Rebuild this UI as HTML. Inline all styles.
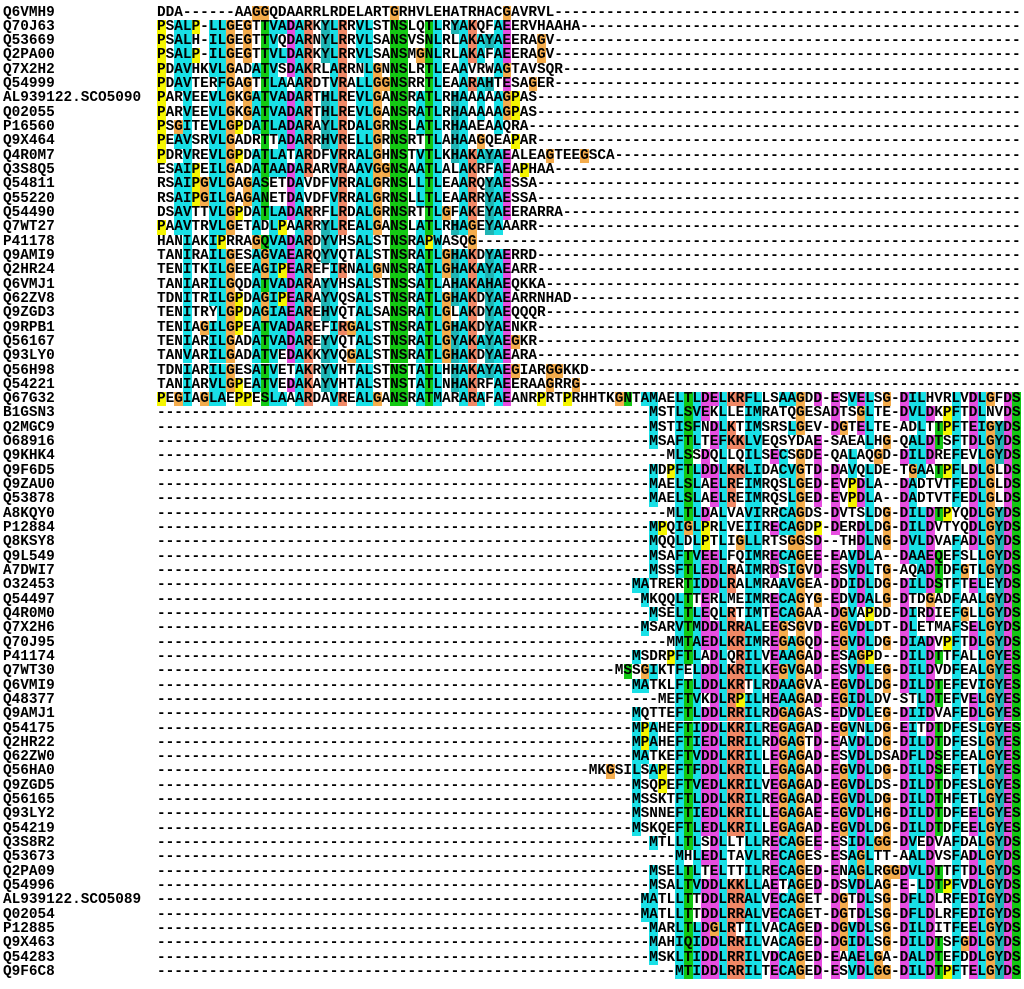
<!DOCTYPE html>
<html>
<head>
<meta charset="utf-8">
<style>
  html, body { margin:0; padding:0; background:#fff; }
  body { width:1024px; height:989px; position:relative; overflow:hidden; }
  #aln { position:absolute; left:0; top:5.5px; width:1024px; }
  .row { position:absolute; left:0; height:14.32px; width:1024px; }
  .nm, .sq { position:absolute; top:0; font-family:"Liberation Mono", monospace; font-weight:bold;
             font-size:14.4px; line-height:14.32px; white-space:pre; color:#000; }
  .nm { left:3px; }
  .sq { left:157px; }
  .cell { position:absolute; top:0; height:14.32px; width:8.64px; }
</style>
</head>
<body>
<div id="aln"></div>
<script>
const seqNames = ["Q6VMH9","Q70J63","Q53669","Q2PA00","Q7X2H2","Q54999","AL939122.SCO5090","Q02055","P16560","Q9X464","Q4R0M7","Q3S8Q5","Q54811","Q55220","Q54490","Q7WT27","P41178","Q9AMI9","Q2HR24","Q6VMJ1","Q62ZV8","Q9ZGD3","Q9RPB1","Q56167","Q93LY0","Q56H98","Q54221","Q67G32","B1GSN3","Q2MGC9","O68916","Q9KHK4","Q9F6D5","Q9ZAU0","Q53878","A8KQY0","P12884","Q8KSY8","Q9L549","A7DWI7","O32453","Q54497","Q4R0M0","Q7X2H6","Q70J95","P41174","Q7WT30","Q6VMI9","Q48377","Q9AMJ1","Q54175","Q2HR22","Q62ZW0","Q56HA0","Q9ZGD5","Q56165","Q93LY2","Q54219","Q3S8R2","Q53673","Q2PA09","Q54996","AL939122.SCO5089","Q02054","P12885","Q9X463","Q54283","Q9F6C8"];
const topSeqs = ["DDA------AAGGQDAARRLRDELARTGRHVLEHATRHACGAVRVL","PSALP-LLGEGTTVADARKYLRRVLSTNSLQTLRYAKQFAEERVHAAHA","PSALH-ILGEGTTVQDARNYLRRVLSANSVSNLRLAKAYAEERAGV","PSALP-ILGEGTTVLDARKYLRRVLSANSMGNLRLAKAFAEERAGV","PDAVHKVLGADATVSDAKRLARRNLGNNSLRTLEAAVRWAGTAVSQR","PDAVTERFGAGTTLAAARDTVRALLGGNSRRTLEAARAHTESAGER","PARVEEVLGKGATVADARTHLREVLGANSRATLRHAAAAAGPAS","PARVEEVLGKGATVADARTHLREVLGANSRATLRHAAAAAGPAS","PSGITEVLGPDATLADARAYLRDALGRNSLATLRHAAEAAQRA","PEAVSRVLGADRTTADARRHVRELLGRNSRTTLAHAAGQEAPAR","PDRVREVLGPDATLATARDFVRRALGHNSTVTLKHAKAYAEALEAGTEEGSCA","ESAIPEILGADATAADARARVRAAVGGNSAATLALAKRFAEAPHAA","RSAIPGVLGAGASETDAVDFVRRALGRNSLLTLEAARQYAESSA","RSAIPGILGAGANETDAVDFVRRALGRNSLLTLEAARRYAESSA","DSAVTTVLGPDATLADARRFLRDALGRNSRTTLGFAKEYAEERARRA","PAAVTRVLGETADLPAARRYLREALGANSLATLRHAGEYAAARR","HANIAKIPRRAGQVADARDYVHSALSTNSRAPWASQG","TANIRAILGESAGVAEARQYVQTALSTNSRATLGHAKDYAERRD","TENITKILGEEAGIPEAREFIRNALGNNSRATLGHAKAYAEARR","TANIARILGQDATVADARAYVHSALSTNSSATLAHAKAHAEQKKA","TDNITRILGPDAGIPEARAYVQSALSTNSRATLGHAKDYAEARRNHAD","TENITRYLGPDAGIAEAREHVQTALSANSRATLGLAKDYAEQQQR","TENIAGILGPEATVADAREFIRGALSTNSRATLGHAKDYAENKR","TENIARILGADATVADAREYVQTALSTNSRATLGYAKAYAEGKR","TANVARILGADATVEDAKKYVQGALSTNSRATLGHAKDYAEARA","TDNIARILGESATVETAKRYVHTALSTNSTATLHHAKAYAEGIARGGKKD","TANIARVLGPEATVEDAKAYVHTALSTNSTATLNHAKRFAEERAAGRRG","PEGIAGLAEPPESLAAARDAVREALGANSRATMARARAFAEANRPRTPRHHTKGNTAMAELTLDELKRFLLSAAGDD-ESVELSG-DILHVRLVDLGFDS"];
const bottomSeqs = ["MSTLSVEKLLEIMRATQGESADTSGLTE-DVLDKPFTDLNVDS","MSTISFNDLKTIMSRSLGEV-DGTELTE-ADLTTPFTEIGYDS","MSAFTLTEFKKLVEQSYDAE-SAEALHG-QALDTSFTDLGYDS","MLSSDQLLQILSECSGDE-QALAQGD-DILDREFEVLGYDS","MDPFTLDDLKRLIDACVGTD-DAVQLDE-TGAATPFLDLGLDS","MAELSLAELREIMRQSLGED-EVPDLA--DADTVTFEDLGLDS","MAELSLAELREIMRQSLGED-EVPDLA--DADTVTFEDLGLDS","MLTLDALVAVIRRCAGDS-DVTSLDG-DILDTPYQDLGYDS","MPQIGLPRLVEIIRECAGDP-DERDLDG-DILDVTYQDLGYDS","MQQLDLPTLIGLLRTSGGSD--THDLNG-DVLDVAFADLGYDS","MSAFTVEELFQIMRECAGEE-EAVDLA--DAAEQEFSLLGYDS","MSSFTLEDLRAIMRDSIGVD-ESVDLTG-AQADTDFGTLGYDS","MATRERTIDDLRALMRAAVGEA-DDIDLDG-DILDSTFTELEYDS","MKQQLTTERLMEIMRECAGYG-EDVDALG-DTDGADFAALGYDS","MSELTLEQLRTIMTECAGAA-DGVAPDD-DIRDIEFGLLGYDS","MSARVTMDDLRRALEEGSGVD-EGVDLDT-DLETMAFSELGYDS","MMTAEDLKRIMREGAGQD-EGVDLDG-DIADVPFTDLGYDS","MSDRPFTLADLQRILVEAAGAD-ESAGPD--DILDTTFALLGYES","MSSGIKTFELDDLKRILKEGVGAD-ESVDLEG-DILDVDFEALGYES","MATKLFTLDDLKRTLRDAAGVA-EGVDLDG-DILDTEFEVIGYES","MEFTVKDLRPILHEAAGAD-EGIDLDV-STLDTEFVELGYES","MQTTEFTLDDLRRILRDGAGAS-EDVDLEG-DIIDVAFEDLGYES","MPAHEFTIDDLKRILREGAGAD-EGVNLDG-EITDTDFESLGYES","MPAHEFTIEDLRRILRDGAGTD-EAVDLDG-DILDTDFESLGYES","MATKEFTVDDLKRILLEGAGAD-ESVDLDSADFLDSEFEALGYES","MKGSILSAPEFTFDDLKRILLEGAGAD-EGVDLDG-DILDSEFETLGYES","MSQPEFTVEDLKRILVEGAGAD-EGVDLDS-DILDTDFESLGYES","MSSKTFTLDDLKRILREGAGAD-EGVDLDG-DILDTHFETLGYES","MSNNEFTIEDLKRILLEGAGAE-EGVDLHG-DILDTDFEELGYES","MSKQEFTLEDLKRILLEGAGAD-EGVDLDG-DILDTDFEELGYES","MTLLTLSDLLTLLRECAGEE-ESIDLGG-DVEDVAFDALGYDS","MHLEDLTAVLRECAGES-ESAGLTT-AALDVSFADLGYDS","MSELTLTELTTILRECAGED-ENAGLRGGDVLDTTFTDLGYDS","MSALTVDDLKKLLAETAGED-DSVDLAG-E-LDTPFVDLGYDS","MATLLTTDDLRRALVECAGET-DGTDLSG-DFLDLRFEDIGYDS","MATLLTTDDLRRALVECAGET-DGTDLSG-DFLDLRFEDIGYDS","MARLTLDGLRTILVACAGED-DGVDLSG-DILDITFEELGYDS","MAHIQIDDLRRILVACAGED-DGIDLSG-DILDTSFGDLGYDS","MSKLTIDDLRRILVDCAGED-EAAELGA-DALDTEFDDLGYDS","MTIDDLRRILTECAGED-ESVDLGG-DILDTPFTELGYDS"];
const alnLength = 100;

const CW = 8.64, RH = 14.32;
function full(){
  const out = [];
  topSeqs.forEach(s => out.push(s.padEnd(alnLength, '-')));
  bottomSeqs.forEach(s => out.push(s.padStart(alnLength, '-')));
  return out;
}
const rows = full();
const groups = {hyd:"AILMFWVC", pos:"KR", neg:"DE", pol:"NQST", aro:"HY"};
const gThresh = {hyd:0.4, pos:0.5, neg:0.5, pol:0.5, aro:0.5};
const gColor = {hyd:"#19e0e6", pos:"#f08866", neg:"#e64ee0", pol:"#14c814", aro:"#1fb4b4"};
function colStats(c){
  const counts = {hyd:0,pos:0,neg:0,pol:0,aro:0}; let n=0;
  rows.forEach(r => { const ch=r[c]; if(ch==='-') return; n++;
    for (const g in groups) if (groups[g].includes(ch)) counts[g]++; });
  return {counts, n};
}
const stats = [];
for (let c=0;c<alnLength;c++) stats.push(colStats(c));
function cellColor(ch, c, i){
  if (ch==='-') return null;
  if (ch==='G') return "#f4ac4c";
  if (ch==='P') return "#f5f500";
  if (i===0) return null;
  const st = stats[c]; if (st.n < 3) return null;
  for (const g in groups){
    if (groups[g].includes(ch) && st.counts[g]/st.n > gThresh[g]) return gColor[g];
  }
  return null;
}
const aln = document.getElementById('aln');
rows.forEach((seq, i) => {
  const row = document.createElement('div');
  row.className = 'row';
  row.style.top = (i*RH) + 'px';
  
  
  for (let c=0;c<seq.length;c++){
    const col = cellColor(seq[c], c, i);
    if (!col) continue;
    const cell = document.createElement('div');
    cell.className = 'cell';
    cell.style.left = (157 + c*CW) + 'px';
    cell.style.background = col;
    
    
    row.appendChild(cell);
  }
  const nm = document.createElement('div');
  nm.className = 'nm';
  nm.textContent = seqNames[i];
  
  
  row.appendChild(nm);
  const sq = document.createElement('div');
  sq.className = 'sq';
  sq.textContent = seq;
  
  
  row.appendChild(sq);
  aln.appendChild(row);
});
</script>
</body>
</html>
